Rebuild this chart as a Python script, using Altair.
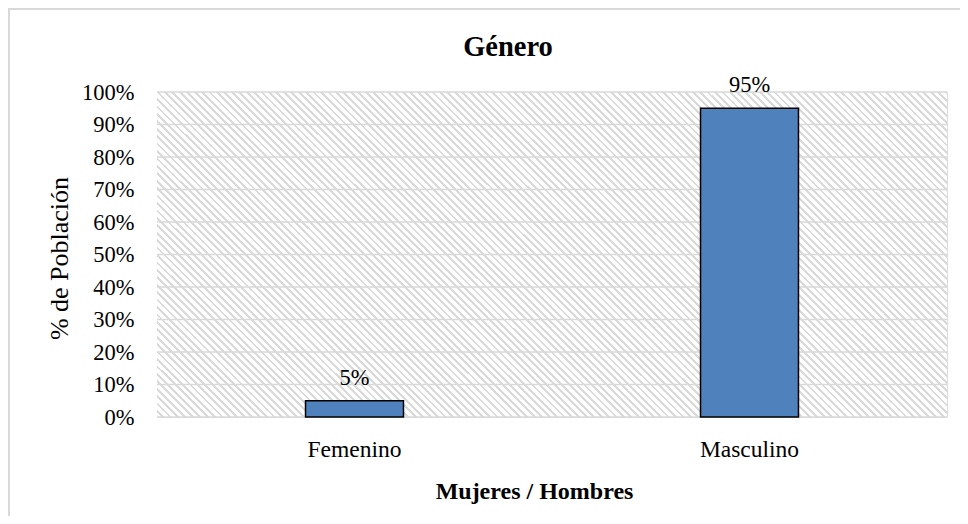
import altair as alt
import pandas as pd

# ---- data ----
categories = ["Femenino", "Masculino"]
values = [0.05, 0.95]
value_labels = ["5%", "95%"]
y_ticks = [0.0, 0.1, 0.2, 0.3, 0.4, 0.5, 0.6, 0.7, 0.8, 0.9, 1.0]
chart_title = "Género"

df = pd.DataFrame({"cat": categories, "val": values, "lab": value_labels})
grid_df = pd.DataFrame({"t": y_ticks})

FONT = "Liberation Serif"
GRID = "#d9d9d9"

W, H = 790, 325

# diagonal hatch background (decoration): striped linear gradient
n_periods = 150
stripe_gray = "#dadada"
stops = []
for k in range(n_periods):
    a = k / n_periods
    b = (k + 0.62) / n_periods
    c = (k + 1) / n_periods
    stops += [
        alt.GradientStop(offset=a, color="#ffffff"),
        alt.GradientStop(offset=b, color="#ffffff"),
        alt.GradientStop(offset=b, color=stripe_gray),
        alt.GradientStop(offset=c, color=stripe_gray),
    ]
hatch = alt.LinearGradient(
    gradient="linear", x1=0, y1=1, x2=1.207, y2=0.503, stops=stops
)

x_enc = alt.X(
    "cat:N",
    sort=categories,
    axis=alt.Axis(
        title="Mujeres / Hombres",
        titleFont=FONT, titleFontSize=24, titleFontWeight="bold", titleColor="#000000",
        titleX=377, titleY=81, titleBaseline="alphabetic", titleAlign="center",
        labelFont=FONT, labelFontSize=23.5, labelColor="#000000", labelAngle=0,
        labelPadding=20, ticks=False, tickSize=0, domain=False, grid=False,
        labelOverlap=False,
    ),
    scale=alt.Scale(paddingInner=0, paddingOuter=0),
)
y_scale = alt.Scale(domain=[0, 1], nice=False, zero=True)
y_axis = alt.Axis(
    title="% de Población",
    titleFont=FONT, titleFontSize=26, titleFontWeight="normal", titleColor="#000000",
    titleX=-90, titleY=166, titleBaseline="alphabetic", titleAlign="center", titleAngle=270,
    labelFont=FONT, labelFontSize=22.5, labelColor="#000000",
    labelPadding=23, ticks=False, tickSize=0, domain=False,
    values=y_ticks, tickCount=11, format=".0%", grid=False,
    labelOverlap=False, labelBound=False, labelSeparation=0,
)

background = alt.Chart(pd.DataFrame({"a": [0]})).mark_rect(
    fill=hatch, strokeWidth=0,
).encode(
    x=alt.value(0), x2=alt.value(W), y=alt.value(0), y2=alt.value(H),
)

grid = alt.Chart(grid_df).mark_rule(color=GRID, strokeWidth=1.5).encode(
    y=alt.Y("t:Q", scale=y_scale, axis=y_axis),
)

bars = alt.Chart(df).mark_bar(
    color="#4f81bd", stroke="#000000", strokeWidth=1.5,
    width=alt.RelativeBandSize(0.248),
).encode(x=x_enc, y=alt.Y("val:Q", scale=y_scale, axis=y_axis))

text = alt.Chart(df).mark_text(
    font=FONT, fontSize=22.5, fontWeight="normal", color="#000000",
    baseline="alphabetic", dy=-16,
).encode(x=alt.X("cat:N", sort=categories), y="val:Q", text="lab:N")

title_mark = alt.Chart(pd.DataFrame({"a": [0]})).mark_text(
    font=FONT, fontSize=28.5, fontWeight="bold", color="#000000",
    baseline="alphabetic", align="center",
).encode(x=alt.value(351), y=alt.value(-36), text=alt.value(chart_title))

border = alt.Chart(pd.DataFrame({"a": [0]})).mark_rect(
    fill=None, stroke=GRID, strokeWidth=2,
).encode(
    x=alt.value(-148), x2=alt.value(1000),
    y=alt.value(-83), y2=alt.value(700),
)

chart = alt.layer(background, grid, bars, text, title_mark, border).properties(
    width=W,
    height=H,
    autosize=alt.AutoSizeParams(type="none"),
    padding={"left": 149, "top": 84, "right": 13, "bottom": 99},
).configure_view(
    stroke=None,
).configure(background="#ffffff", font=FONT).configure_text(
    font=FONT
).configure_axis(labelOverlap=False)

chart.save("out.html", embed_options={"renderer": "svg", "actions": False})
